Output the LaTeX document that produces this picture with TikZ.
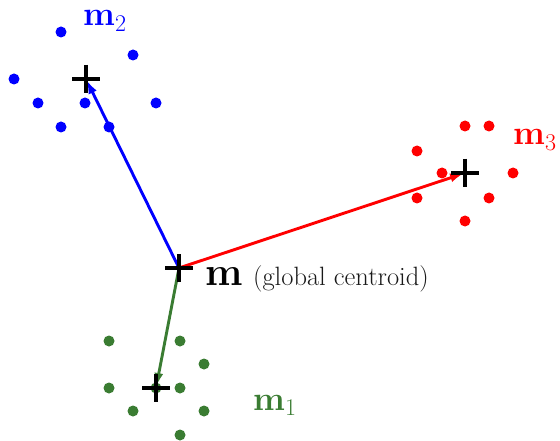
\documentclass[tikz,border=0pt]{standalone}
\usepackage{fontspec}
\usetikzlibrary{arrows.meta}
\definecolor{cgreen}{RGB}{58,124,50}
\definecolor{cblue}{RGB}{0,0,255}
\definecolor{cred}{RGB}{255,0,0}
\newcommand{\mlab}[1]{{\bfseries m}\raisebox{-5.5pt}{\fontsize{24}{26}\selectfont #1}}
\begin{document}
\begin{tikzpicture}[x=1pt,y=-1pt,
  dot/.style={circle,fill=#1,inner sep=0pt,minimum size=11pt},
  cen/.style={inner sep=0pt,minimum size=28pt,
    path picture={\draw[line width=3.2pt,black] (path picture bounding box.west) -- (path picture bounding box.east)
      (path picture bounding box.north) -- (path picture bounding box.south);}},
  vec/.style={line width=2.9pt,-{Latex[length=14pt,width=9pt]},shorten >=1pt},
  lab/.style={anchor=base west,inner sep=0pt,font=\fontsize{34}{37}\selectfont}]
\useasboundingbox (0,0) rectangle (560,441);
% blue cluster
\foreach \p in {(61,32),(133,55),(14,79),(38,103),(85,103),(156,103),(61,127),(109,127)}
  \node[dot=cblue] at \p {};
% red cluster
\foreach \p in {(465,126),(489,126),(417,151),(442,173),(513,173),(417,198),(489,198),(465,221)}
  \node[dot=cred] at \p {};
% green cluster
\foreach \p in {(109,341),(180,341),(204,364),(109,388),(156,388),(180,388),(133,411),(204,411),(180,435)}
  \node[dot=cgreen] at \p {};
% centroids
\node[cen] (m) at (179,268) {};
\node[cen] (m1) at (156,388) {};
\node[cen] (m2) at (86,79) {};
\node[cen] (m3) at (465,173) {};
% vectors
\draw[vec,cblue] (m.center) -- (m2.center);
\draw[vec,cred] (m.center) -- (m3.center);
\draw[vec,cgreen] (m.center) -- (m1.center);
\node[cen] at (m) {};
\node[cen] at (m1) {};
\node[cen] at (m2) {};
\node[cen] at (m3) {};
% labels
\node[lab,text=cblue] (l2) at (83,26) {\mlab{2}};
\node[lab,text=cred] (l3) at (513,145) {\mlab{3}};
\node[lab,text=cgreen] (l1) at (253,410) {\mlab{1}};
\node[lab,font=\fontsize{40}{43}\selectfont\bfseries] (lm) at (205,285) {m};
\node[anchor=base west,inner sep=0pt,font=\fontsize{26.5}{29}\selectfont,text=black!90] (lg) at (253,285) {(global centroid)};
\end{tikzpicture}
\end{document}
